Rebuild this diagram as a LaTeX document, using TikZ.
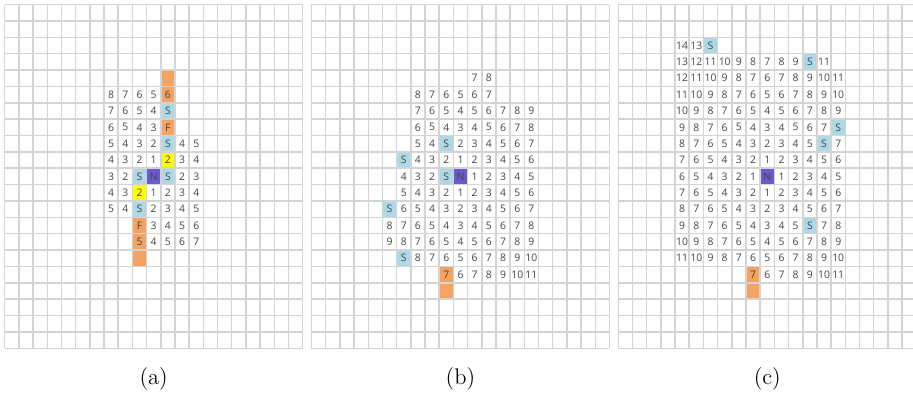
\documentclass[tikz,border=0pt]{standalone}
\usepackage{fontspec}
\newfontfamily\cellfont{Open Sans}
\usepackage{tikz}
\definecolor{gridgray}{HTML}{D4D4D4}
\definecolor{orng}{HTML}{F4A460}
\definecolor{lblue}{HTML}{ADD8E6}
\definecolor{ylw}{HTML}{FFFF00}
\definecolor{purp}{HTML}{6A5ACD}
\definecolor{numgray}{HTML}{444444}

\begin{document}
\begin{tikzpicture}[x=7.095pt, y=8.185pt,
    gridline/.style={draw=gridgray, line width=0.75pt, step=1},
    num/.style={font=\cellfont\fontsize{5.2}{6}\selectfont, text=numgray, inner sep=0pt},
    caption/.style={font=\fontsize{11.3}{13}\selectfont}]

    \useasboundingbox (-0.331,-2.853) rectangle (64.01,21.277);

    % (a) Wellenfront mit zwei Start-Zellen
    \begin{scope}
        \foreach \c/\r/\k in {11/4/orng, 11/5/orng, 11/7/orng, 9/13/orng, 9/14/orng, 9/15/orng,
                              11/6/lblue, 11/8/lblue, 9/10/lblue, 11/10/lblue, 9/12/lblue,
                              11/9/ylw, 9/11/ylw, 10/10/purp}
            \fill[\k] (\c,20-\r) rectangle ++(1,1);
        \draw[gridline] (0,0) grid (21,21);
        \foreach \r/\s/\vals in {5/7/{8,7,6,5,6}, 6/7/{7,6,5,4,S}, 7/7/{6,5,4,3,F},
                                 8/7/{5,4,3,2,S,4,5}, 9/7/{4,3,2,1,2,3,4}, 10/7/{3,2,S,N,S,2,3},
                                 11/7/{4,3,2,1,2,3,4}, 12/7/{5,4,S,2,3,4,5},
                                 13/9/{F,3,4,5,6}, 14/9/{5,4,5,6,7}}
            \foreach \v [count=\cc from \s] in \vals
                \node[num] (a-\r-\cc) at (\cc+0.5,20.5-\r) {\v};
        \node[caption] (a-cap) at (10.5,-1.89) {(a)};
    \end{scope}

    % (b)
    \begin{scope}[shift={(21.62,0)}]
        \foreach \c/\r/\k in {9/16/orng, 9/17/orng,
                              9/8/lblue, 6/9/lblue, 9/10/lblue, 5/12/lblue, 6/15/lblue,
                              10/10/purp}
            \fill[\k] (\c,20-\r) rectangle ++(1,1);
        \draw[gridline] (0,0) grid (21,21);
        \foreach \r/\s/\vals in {4/11/{7,8}, 5/7/{8,7,6,5,6,7}, 6/7/{7,6,5,4,5,6,7,8,9},
                                 7/7/{6,5,4,3,4,5,6,7,8}, 8/7/{5,4,S,2,3,4,5,6,7},
                                 9/6/{S,4,3,2,1,2,3,4,5,6}, 10/6/{4,3,2,S,N,1,2,3,4,5},
                                 11/6/{5,4,3,2,1,2,3,4,5,6}, 12/5/{S,6,5,4,3,2,3,4,5,6,7},
                                 13/5/{8,7,6,5,4,3,4,5,6,7,8}, 14/5/{9,8,7,6,5,4,5,6,7,8,9},
                                 15/6/{S,8,7,6,5,6,7,8,9,10}, 16/9/{7,6,7,8,9,10,11}}
            \foreach \v [count=\cc from \s] in \vals
                \node[num] (b-\r-\cc) at (\cc+0.5,20.5-\r) {\v};
        \node[caption] (b-cap) at (10.5,-1.89) {(b)};
    \end{scope}

    % (c)
    \begin{scope}[shift={(43.24,0)}]
        \foreach \c/\r/\k in {9/16/orng, 9/17/orng,
                              6/2/lblue, 13/3/lblue, 15/7/lblue, 14/8/lblue, 13/13/lblue,
                              10/10/purp}
            \fill[\k] (\c,20-\r) rectangle ++(1,1);
        \draw[gridline] (0,0) grid (21,21);
        \foreach \r/\s/\vals in {2/4/{14,13,S}, 3/4/{13,12,11,10,9,8,7,8,9,S,11},
                                 4/4/{12,11,10,9,8,7,6,7,8,9,10,11},
                                 5/4/{11,10,9,8,7,6,5,6,7,8,9,10},
                                 6/4/{10,9,8,7,6,5,4,5,6,7,8,9},
                                 7/4/{9,8,7,6,5,4,3,4,5,6,7,S},
                                 8/4/{8,7,6,5,4,3,2,3,4,5,S,7},
                                 9/4/{7,6,5,4,3,2,1,2,3,4,5,6},
                                 10/4/{6,5,4,3,2,1,N,1,2,3,4,5},
                                 11/4/{7,6,5,4,3,2,1,2,3,4,5,6},
                                 12/4/{8,7,6,5,4,3,2,3,4,5,6,7},
                                 13/4/{9,8,7,6,5,4,3,4,5,S,7,8},
                                 14/4/{10,9,8,7,6,5,4,5,6,7,8,9},
                                 15/4/{11,10,9,8,7,6,5,6,7,8,9,10},
                                 16/9/{7,6,7,8,9,10,11}}
            \foreach \v [count=\cc from \s] in \vals
                \node[num] (c-\r-\cc) at (\cc+0.5,20.5-\r) {\v};
        \node[caption] (c-cap) at (10.5,-1.89) {(c)};
    \end{scope}

\end{tikzpicture}
\end{document}
